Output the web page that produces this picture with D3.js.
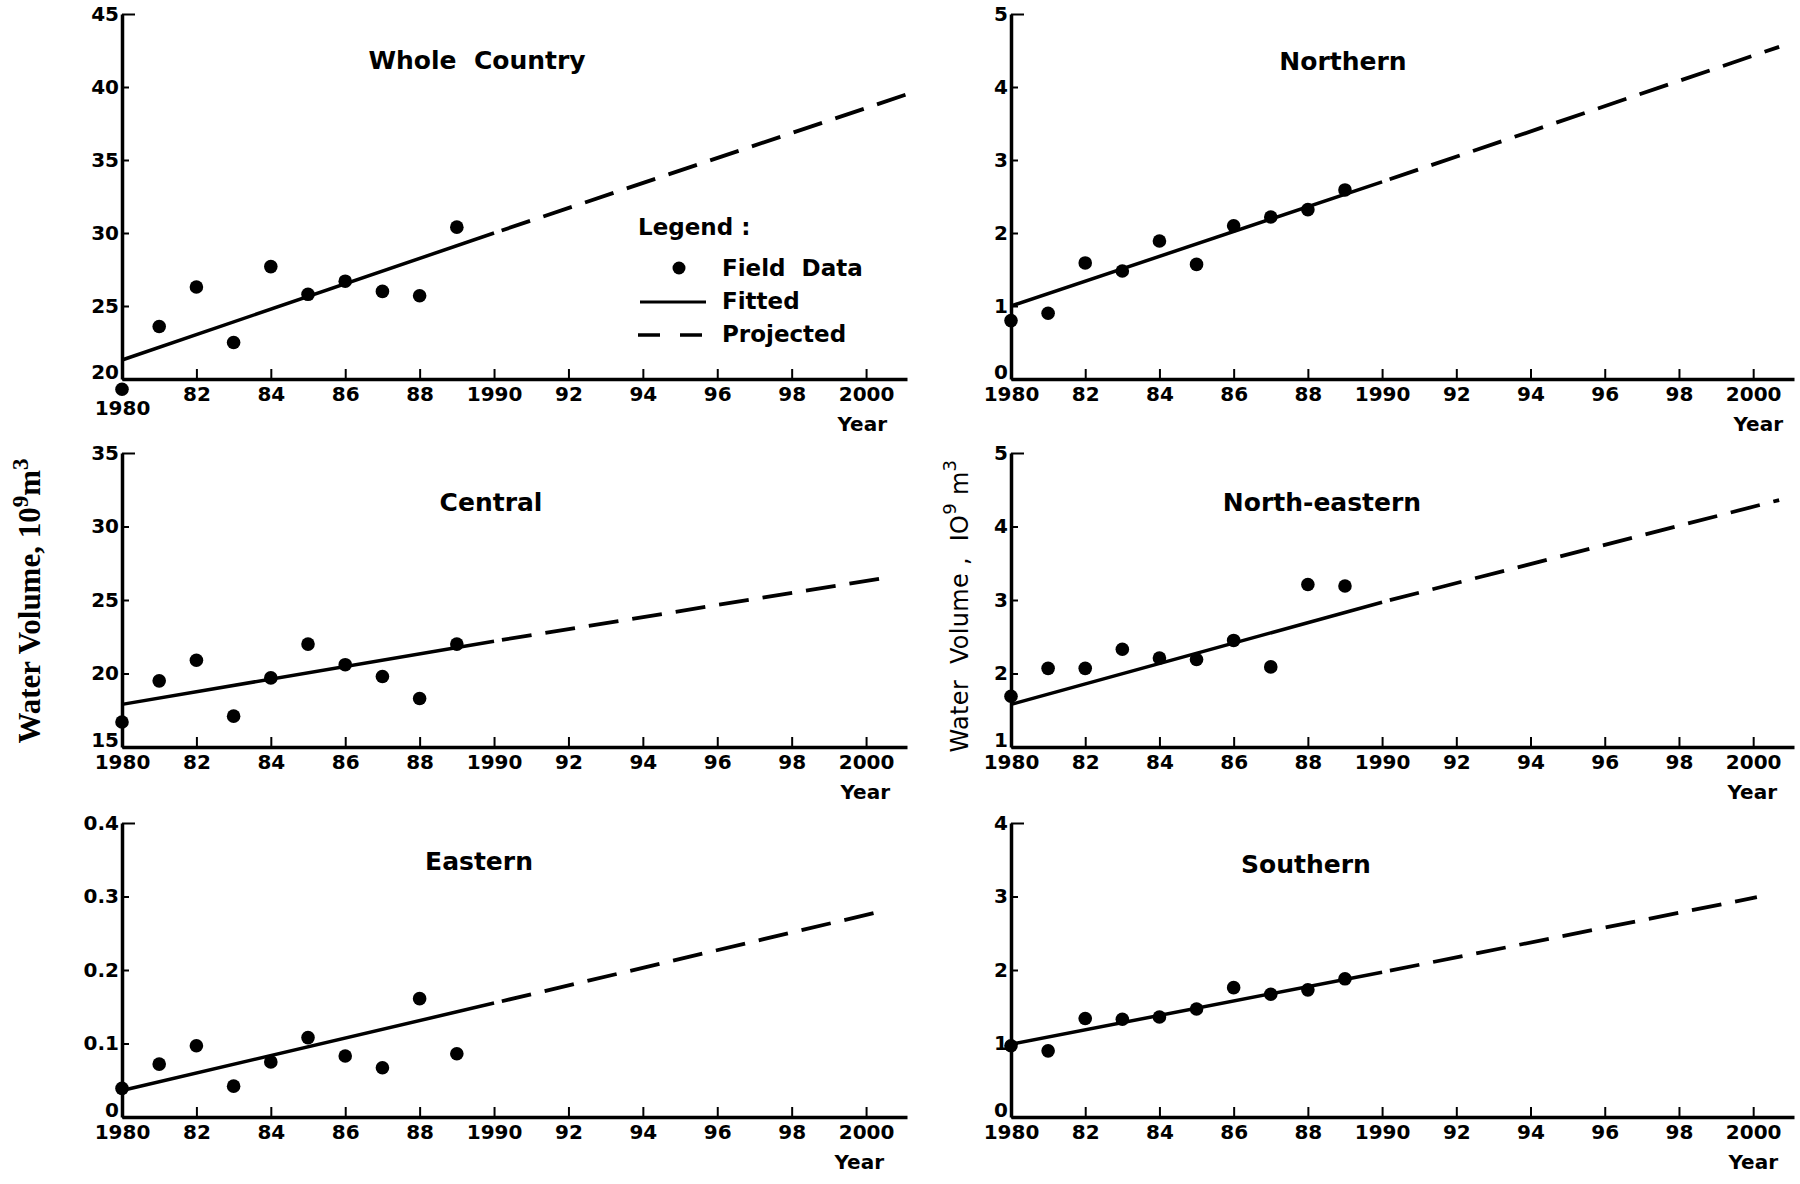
<!DOCTYPE html>
<html>
<head>
<meta charset="utf-8">
<script src="https://cdn.jsdelivr.net/npm/d3@7/dist/d3.min.js"></script>
<style>
  body { margin: 0; background: #fff; }
  svg text { fill: #000; }
</style>
</head>
<body>
<div id="container"></div>
<script>
// canvas
var width = 1800;
var height = 1184;

//-----------------------------DATA------------------------------//
// field data years
var years = [1980, 1981, 1982, 1983, 1984, 1985, 1986, 1987, 1988, 1989];

// water volume, 10^9 m3
var wholeCountry = [19.3, 23.6, 26.3, 22.5, 27.7, 25.8, 26.7, 26.0, 25.7, 30.4];
var northern     = [0.80, 0.90, 1.59, 1.48, 1.89, 1.57, 2.10, 2.22, 2.32, 2.59];
var central      = [16.7, 19.5, 20.9, 17.1, 19.7, 22.0, 20.6, 19.8, 18.3, 22.0];
var northEastern = [1.69, 2.07, 2.07, 2.33, 2.21, 2.19, 2.45, 2.09, 3.21, 3.19];
var eastern      = [0.039, 0.072, 0.097, 0.042, 0.075, 0.108, 0.083, 0.067, 0.161, 0.086];
var southern     = [0.97, 0.90, 1.34, 1.33, 1.36, 1.47, 1.76, 1.67, 1.73, 1.88];

// fitted lines [year, value] and their projections
var wholeFitted      = [[1980, 21.3], [1990, 30.0]];
var wholeProjected   = [[1990, 30.0], [2001.1, 39.5]];
var northFitted      = [[1980, 1.0], [1990, 2.7]];
var northProjected   = [[1990, 2.7], [2000.7, 4.55]];
var centralFitted    = [[1980, 17.9], [1990, 22.2]];
var centralProjected = [[1990, 22.2], [2000.5, 26.5]];
var neFitted         = [[1980, 1.58], [1990, 2.97]];
var neProjected      = [[1990, 2.97], [2000.7, 4.36]];
var eastFitted       = [[1980, 0.036], [1990, 0.155]];
var eastProjected    = [[1990, 0.155], [2000.5, 0.281]];
var southFitted      = [[1980, 0.99], [1990, 1.97]];
var southProjected   = [[1990, 1.97], [2000.1, 2.99]];

// tick labels
var xTicks = [1980, 1982, 1984, 1986, 1988, 1990, 1992, 1994, 1996, 1998, 2000];
var xTickLabels = ["1980", "82", "84", "86", "88", "1990", "92", "94", "96", "98", "2000"];

var wholeTicks = [20, 25, 30, 35, 40, 45];
var northTicks = [0, 1, 2, 3, 4, 5];
var centralTicks = [15, 20, 25, 30, 35];
var neTicks = [1, 2, 3, 4, 5];
var eastTicks = [0, 0.1, 0.2, 0.3, 0.4];
var eastTickLabels = ["0", "0.1", "0.2", "0.3", "0.4"];
var southTicks = [0, 1, 2, 3, 4];

//----------------------------LAYOUT-----------------------------//
var cols = [{x0: 122, x1: 907}, {x0: 1011, x1: 1794}];
var rows = [{top: 14, bot: 379}, {top: 453, bot: 747}, {top: 823, bot: 1117}];
var xDomain = [1980, 2001.1];

var sans = "'DejaVu Sans', 'Open Sans', sans-serif";

var panels = [
  {title: "Whole  Country", pts: wholeCountry, fit: wholeFitted, proj: wholeProjected,
   ticks: wholeTicks, labels: null, col: 0, row: 0, tx: 477, ty: 60, yearX: 887},
  {title: "Northern", pts: northern, fit: northFitted, proj: northProjected,
   ticks: northTicks, labels: null, col: 1, row: 0, tx: 1343, ty: 61, yearX: 1783},
  {title: "Central", pts: central, fit: centralFitted, proj: centralProjected,
   ticks: centralTicks, labels: null, col: 0, row: 1, tx: 491, ty: 502, yearX: 890},
  {title: "North-eastern", pts: northEastern, fit: neFitted, proj: neProjected,
   ticks: neTicks, labels: null, col: 1, row: 1, tx: 1322, ty: 502, yearX: 1777},
  {title: "Eastern", pts: eastern, fit: eastFitted, proj: eastProjected,
   ticks: eastTicks, labels: eastTickLabels, col: 0, row: 2, tx: 479, ty: 861, yearX: 884},
  {title: "Southern", pts: southern, fit: southFitted, proj: southProjected,
   ticks: southTicks, labels: null, col: 1, row: 2, tx: 1306, ty: 864, yearX: 1778}
];

var svg = d3.select("div#container").append("svg")
    .attr("width", width)
    .attr("height", height)
    .style("display", "block")
    .style("background", "#fff");

var line = d3.line();

//-------------------------2. DRAWING----------------------------//
panels.forEach(function(p, pi) {
  var c = cols[p.col], r = rows[p.row];
  var x = d3.scaleLinear().domain(xDomain).range([c.x0, c.x1]);
  var y = d3.scaleLinear().domain([p.ticks[0], p.ticks[p.ticks.length - 1]]).range([r.bot, r.top]);
  var g = svg.append("g");

  // y axis
  var yAxis = d3.axisLeft(y)
      .tickValues(p.ticks)
      .tickFormat(function(d, i) { return p.labels ? p.labels[i] : String(d); })
      .tickSize(-7).tickSizeOuter(0).tickPadding(3);
  var ya = g.append("g")
      .attr("transform", "translate(" + c.x0 + ",0)")
      .call(yAxis);

  // x axis
  var xAxis = d3.axisBottom(x)
      .tickValues(xTicks)
      .tickFormat(function(d, i) { return xTickLabels[i]; })
      .tickSize(-10).tickSizeOuter(0).tickPadding(8);
  var xa = g.append("g")
      .attr("transform", "translate(0," + r.bot + ")")
      .call(xAxis);

  [ya, xa].forEach(function(a) {
    a.attr("font-family", sans).attr("font-size", 20).attr("font-weight", "bold");
    a.select(".domain").attr("stroke", "#000").attr("stroke-width", 3.5);
    a.selectAll(".tick line").attr("stroke", "#000").attr("stroke-width", 2);
    a.selectAll(".tick text").attr("fill", "#000");
  });
  // longer cap tick on top, bottom label lifted
  ya.selectAll(".tick").filter(function(d, i) { return i === p.ticks.length - 1; })
      .select("line").attr("x2", 13);
  ya.selectAll(".tick").filter(function(d, i) { return i === 0; })
      .select("text").attr("dy", "-0.05em");
  xa.select(".tick line").remove();
  if (pi === 0) {
    xa.selectAll(".tick").filter(function(d, i) { return i === 0; })
        .select("text").attr("dy", "1.4em");
  }

  // year label
  g.append("text")
      .attr("x", p.yearX)
      .attr("y", r.bot + 52)
      .attr("text-anchor", "end")
      .attr("font-family", sans).attr("font-size", 20).attr("font-weight", "bold")
      .text("Year");

  // title
  g.append("text")
      .attr("x", p.tx)
      .attr("y", p.ty)
      .attr("text-anchor", "middle")
      .attr("dominant-baseline", "central")
      .attr("font-family", sans).attr("font-size", 25).attr("font-weight", "bold")
      .style("white-space", "pre")
      .text(p.title);

  // fitted + projected
  g.append("path")
      .attr("d", line(p.fit.map(function(d) { return [x(d[0]), y(d[1])]; })))
      .attr("fill", "none").attr("stroke", "#000").attr("stroke-width", 3.5);
  g.append("path")
      .attr("d", line(p.proj.map(function(d) { return [x(d[0]), y(d[1])]; })))
      .attr("fill", "none").attr("stroke", "#000").attr("stroke-width", 3.8)
      .attr("stroke-dasharray", "30,14").attr("stroke-dashoffset", 36);

  // field data
  g.selectAll("circle")
      .data(p.pts)
      .enter().append("circle")
      .attr("cx", function(d, i) { return x(years[i]); })
      .attr("cy", function(d) { return y(d); })
      .attr("r", 6.8)
      .attr("fill", "#000");
});

//----------------------------LEGEND-----------------------------//
var lg = svg.append("g")
    .attr("font-family", sans).attr("font-size", 23).attr("font-weight", "bold");
lg.append("text").attr("x", 638).attr("y", 227).attr("dominant-baseline", "central").text("Legend :");
lg.append("circle").attr("cx", 679).attr("cy", 268).attr("r", 6.5).attr("fill", "#000");
lg.append("text").attr("x", 722).attr("y", 268).attr("dominant-baseline", "central")
    .style("white-space", "pre").text("Field  Data");
lg.append("line").attr("x1", 640).attr("x2", 706).attr("y1", 302).attr("y2", 302)
    .attr("stroke", "#000").attr("stroke-width", 3);
lg.append("text").attr("x", 722).attr("y", 301).attr("dominant-baseline", "central").text("Fitted");
lg.append("line").attr("x1", 638).attr("x2", 707).attr("y1", 335).attr("y2", 335)
    .attr("stroke", "#000").attr("stroke-width", 3.5).attr("stroke-dasharray", "22,20");
lg.append("text").attr("x", 722).attr("y", 334).attr("dominant-baseline", "central").text("Projected");

//----------------------------Y TITLES---------------------------//
var yl = svg.append("text")
    .attr("transform", "translate(40,601) rotate(-90)")
    .attr("text-anchor", "middle")
    .attr("font-family", "'Liberation Serif', 'Times New Roman', serif")
    .attr("font-size", 31).attr("font-weight", "bold");
yl.append("tspan").text("Water Volume, 10");
yl.append("tspan").attr("dy", -12).attr("font-size", 23).text("9");
yl.append("tspan").attr("dy", 12).text("m");
yl.append("tspan").attr("dy", -12).attr("font-size", 23).text("3");

var yr = svg.append("text")
    .attr("transform", "translate(968,606) rotate(-90)")
    .attr("text-anchor", "middle")
    .attr("font-family", sans)
    .attr("font-size", 24)
    .attr("letter-spacing", 0.3);
yr.append("tspan").style("white-space", "pre").text("Water  Volume ,  IO");
yr.append("tspan").attr("dy", -12).attr("font-size", 18).text("9");
yr.append("tspan").attr("dy", 12).style("white-space", "pre").text(" m");
yr.append("tspan").attr("dy", -12).attr("font-size", 18).text("3");
</script>
</body>
</html>
